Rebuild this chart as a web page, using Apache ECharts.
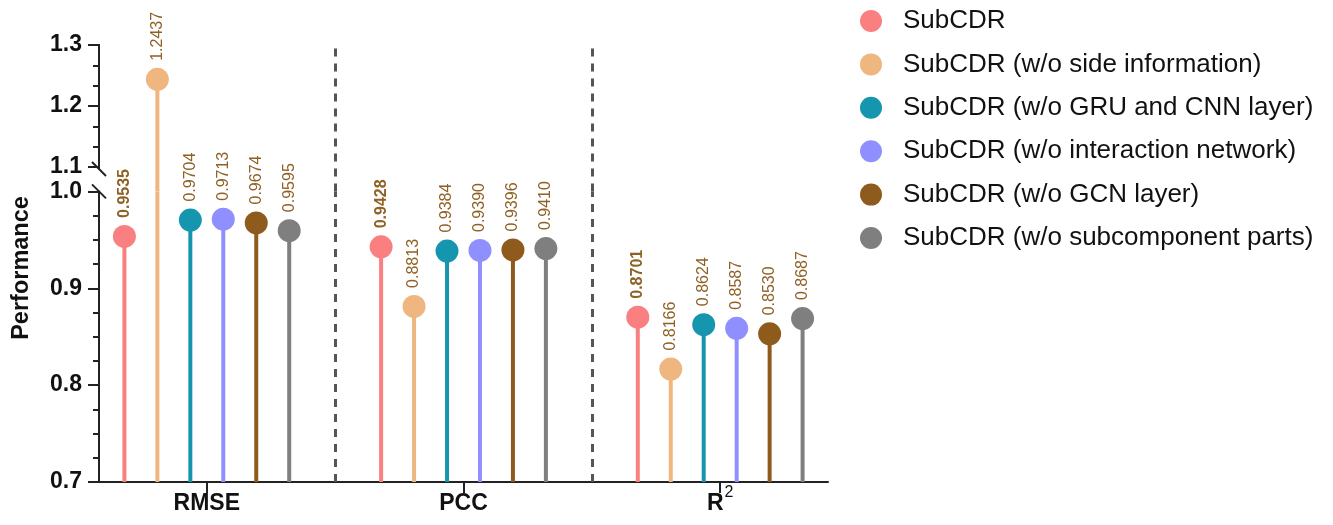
<!DOCTYPE html>
<html><head><meta charset="utf-8">
<script src="https://cdn.jsdelivr.net/npm/echarts@6/dist/echarts.min.js"></script>
<style>html,body{margin:0;padding:0;background:#fff}#c{width:1333px;height:525px}</style>
</head><body><div id="c"></div>
<script>
// ---- data ----
const metrics = ['RMSE', 'PCC', 'R2'];
const models = [
  'SubCDR',
  'SubCDR (w/o side information)',
  'SubCDR (w/o GRU and CNN layer)',
  'SubCDR (w/o interaction network)',
  'SubCDR (w/o GCN layer)',
  'SubCDR (w/o subcomponent parts)'
];
const subcdr      = [0.9535, 0.9428, 0.8701];
const woSideInfo  = [1.2437, 0.8813, 0.8166];
const woGruCnn    = [0.9704, 0.9384, 0.8624];
const woInterNet  = [0.9713, 0.9390, 0.8587];
const woGcn       = [0.9674, 0.9396, 0.8530];
const woSubParts  = [0.9595, 0.9410, 0.8687];
const lowerTicks  = [0.7, 0.8, 0.9, 1.0];
const upperTicks  = [1.1, 1.2, 1.3];

const seriesValues = [subcdr, woSideInfo, woGruCnn, woInterNet, woGcn, woSubParts];
const colors = ['#FA7F80', '#EFB67F', '#1596AE', '#8F8FFF', '#8E5B1C', '#7F7F7F'];
const labelColor = '#8F6125';
const FONT = 'Arial, "Liberation Sans", Helvetica, sans-serif';

// ---- layout params ----
const X_MIN = -0.42, X_MAX = 2.42;
const SLOT = 0.1284;            // spacing between lollipops in category units
const LOWER_MIN = 0.7, LOWER_MAX = 1.0;
const UPPER_MIN = 1.06, UPPER_MAX = 1.3;  // UPPER_MIN below 1.1 = visual gap of the broken axis
const R = 11.5;

function minorBetween(ticks, n) {
  const out = [];
  for (let i = 0; i < ticks.length - 1; i++) {
    for (let k = 1; k < n; k++) out.push(ticks[i] + (ticks[i + 1] - ticks[i]) * k / n);
  }
  return out;
}

function makeRender(j, part) {
  return function (params, api) {
    const xi = api.value(0), v = api.value(1);
    const x = xi + (j - 2.5) * SLOT;
    const children = [];
    let stemFrom, stemTo, showHead;
    if (part === 'lower') {
      stemFrom = api.coord([x, LOWER_MIN]);
      stemTo = api.coord([x, Math.min(v, LOWER_MAX)]);
      showHead = v <= LOWER_MAX;
    } else {
      if (v <= LOWER_MAX) return null;
      stemFrom = api.coord([x, UPPER_MIN]);
      stemTo = api.coord([x, v]);
      showHead = true;
    }
    children.push({
      type: 'line',
      shape: { x1: stemFrom[0], y1: stemFrom[1], x2: stemTo[0], y2: stemTo[1] },
      style: { stroke: colors[j], lineWidth: 4 }
    });
    if (showHead) {
      children.push({
        type: 'circle',
        shape: { cx: stemTo[0], cy: stemTo[1], r: R },
        style: { fill: colors[j] }
      });
      children.push({
        type: 'text',
        x: stemTo[0], y: stemTo[1] - R - 7,
        rotation: Math.PI / 2,
        style: {
          text: v.toFixed(4),
          fill: labelColor,
          font: (j === 0 ? 'bold ' : '') + '16px ' + FONT,
          align: 'left', verticalAlign: 'middle'
        }
      });
    }
    return { type: 'group', children: children };
  };
}

const series = [];
seriesValues.forEach(function (vals, j) {
  const data = vals.map(function (v, i) { return [i, v]; });
  ['lower', 'upper'].forEach(function (part) {
    series.push({
      name: models[j],
      type: 'custom',
      xAxisIndex: part === 'lower' ? 1 : 0,
      yAxisIndex: part === 'lower' ? 2 : 0,
      itemStyle: { color: colors[j] },
      renderItem: makeRender(j, part),
      data: data,
      silent: true,
      z: 5
    });
  });
});

const sepLine = {
  silent: true, symbol: 'none', label: { show: false },
  lineStyle: { color: '#555', type: [8, 7], width: 3 },
  data: [{ xAxis: 0.5 }, { xAxis: 1.5 }]
};

// decorations: upper axis line + break marks + separators
series.push({
  type: 'custom', xAxisIndex: 0, yAxisIndex: 0, silent: true, z: 3,
  data: [[X_MIN, upperTicks[0]]],
  renderItem: function (params, api) {
    const a = api.coord([X_MIN, upperTicks[0]]);
    const b = api.coord([X_MIN, upperTicks[upperTicks.length - 1]]);
    return { type: 'group', children: [
      { type: 'line', shape: { x1: a[0], y1: a[1] + 2, x2: b[0], y2: b[1] - 1 }, style: { stroke: '#222', lineWidth: 2 } },
      { type: 'line', shape: { x1: a[0] - 7, y1: a[1] - 5, x2: a[0] + 7, y2: a[1] + 9 }, style: { stroke: '#222', lineWidth: 2 } }
    ] };
  },
  markLine: sepLine
});
series.push({
  type: 'custom', xAxisIndex: 1, yAxisIndex: 2, silent: true, z: 3,
  data: [[X_MIN, LOWER_MAX]],
  renderItem: function (params, api) {
    const a = api.coord([X_MIN, LOWER_MAX]);
    return { type: 'line', shape: { x1: a[0] - 7, y1: a[1] - 7, x2: a[0] + 7, y2: a[1] + 7 }, style: { stroke: '#222', lineWidth: 2 } };
  },
  markLine: sepLine
});

const axisLabelStyle = { color: '#111', fontSize: 23, fontWeight: 'bold', fontFamily: FONT };

const option = {
  animation: false,
  backgroundColor: '#fff',
  grid: [
    { left: 99, top: 45, width: 729, height: 146.4 },
    { left: 99, top: 191.4, width: 729, height: 290.6 }
  ],
  xAxis: [
    { gridIndex: 0, type: 'value', min: X_MIN, max: X_MAX, show: false },
    {
      gridIndex: 1, type: 'value', min: X_MIN, max: X_MAX,
      axisLine: { show: true, onZero: false, lineStyle: { color: '#222', width: 2 } },
      axisTick: { show: true, customValues: [0, 1, 2], length: 11, lineStyle: { color: '#222', width: 2 } },
      axisLabel: {
        customValues: [0, 1, 2], margin: 3,
        formatter: function (v) {
          const name = metrics[Math.round(v)];
          if (name === 'R2') return '{b|R}{sup|2}';
          return '{b|' + name + '}';
        },
        rich: {
          b: { fontSize: 23, fontWeight: 'bold', color: '#111', fontFamily: FONT, lineHeight: 30, verticalAlign: 'bottom' },
          sup: { fontSize: 16, color: '#111', fontFamily: FONT, lineHeight: 16, verticalAlign: 'top', padding: [0, 0, 0, 1] }
        }
      },
      splitLine: { show: false }
    }
  ],
  yAxis: [
    {
      gridIndex: 0, type: 'value', min: UPPER_MIN, max: UPPER_MAX, position: 'left',
      axisLine: { show: false, onZero: false },
      axisTick: { show: true, customValues: upperTicks, length: 11, lineStyle: { color: '#222', width: 2 } },
      axisLabel: Object.assign({ customValues: upperTicks, margin: 17, formatter: function (v) { return v.toFixed(1); } }, axisLabelStyle),
      splitLine: { show: false }
    },
    {
      gridIndex: 0, type: 'value', min: UPPER_MIN, max: UPPER_MAX, position: 'left',
      axisLine: { show: false, onZero: false },
      axisTick: { show: true, customValues: minorBetween(upperTicks, 3), length: 6, lineStyle: { color: '#222', width: 2 } },
      axisLabel: { show: false },
      splitLine: { show: false }
    },
    {
      gridIndex: 1, type: 'value', min: LOWER_MIN, max: LOWER_MAX, interval: 0.1, position: 'left',
      axisLine: { show: true, onZero: false, lineStyle: { color: '#222', width: 2 } },
      axisTick: { show: true, length: 11, lineStyle: { color: '#222', width: 2 } },
      minorTick: { show: true, splitNumber: 4, length: 6, lineStyle: { color: '#222', width: 2 } },
      axisLabel: Object.assign({ margin: 17, formatter: function (v) { return v.toFixed(1); } }, axisLabelStyle),
      splitLine: { show: false }
    }
  ],
  legend: {
    data: models, orient: 'vertical', left: 855, top: 3,
    icon: 'circle', itemWidth: 22, itemHeight: 22, itemGap: 17.4,
    textStyle: { fontSize: 26, color: '#111', fontFamily: FONT, padding: [0, 0, 0, 16] },
    selectedMode: false
  },
  graphic: [{
    type: 'text', x: 22, y: 268, rotation: Math.PI / 2,
    style: { text: 'Performance', font: 'bold 23.5px ' + FONT, fill: '#111', align: 'center', verticalAlign: 'middle' }
  }],
  series: series
};

const chart = echarts.init(document.getElementById('c'), null, { renderer: 'canvas' });
chart.setOption(option);
</script>
</body></html>
